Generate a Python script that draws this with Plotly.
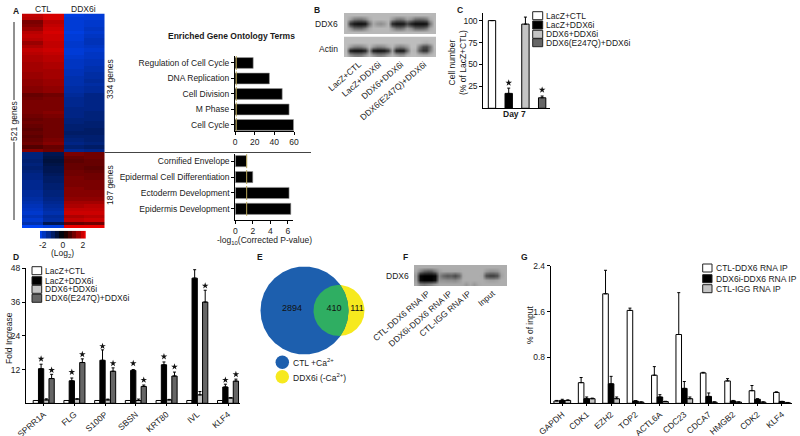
import numpy as np
import plotly.graph_objects as go

W, H = 800, 436
FONT = "Liberation Sans"
INK = "#1a1a1a"
LABEL_ANGLE = -41

WHITE, BLACK, LGREY, DGREY = "#ffffff", "#000000", "#c4c4c4", "#666666"

# Panel A heat map, rows top to bottom: CTL, CTL, DDX6i, DDX6i (log2)
heat_rows = [
    [1.9, 2.1, -2.2, -2.1], [1.8, 2.1, -2.1, -2.1], [1.2, 1.8, -2.1, -2.0], [1.3, 1.9, -2.1, -2.0],
    [1.5, 2.0, -2.1, -1.9], [1.8, 2.1, -2.2, -2.0], [1.9, 2.0, -2.1, -1.9], [1.8, 2.0, -2.1, -1.8],
    [1.5, 1.9, -2.0, -1.8], [1.7, 1.9, -2.0, -1.9], [1.9, 2.0, -2.1, -2.0], [1.8, 1.9, -2.1, -1.9],
    [1.7, 1.8, -2.0, -1.9], [1.7, 1.8, -1.9, -1.8], [1.6, 1.7, -1.9, -1.8], [1.6, 1.7, -1.9, -1.7],
    [1.6, 1.6, -1.8, -1.7], [1.5, 1.6, -1.8, -1.6], [1.5, 1.6, -1.7, -1.6], [1.4, 1.5, -1.7, -1.5],
    [1.4, 1.5, -1.7, -1.6], [1.3, 1.4, -1.6, -1.5], [1.3, 1.4, -1.6, -1.5], [1.0, 1.1, -1.5, -1.3],
    [1.1, 1.2, -1.4, -1.3], [1.2, 1.2, -1.4, -1.3], [1.2, 1.2, -1.4, -1.3], [1.2, 1.2, -1.3, -1.3],
    [1.2, 1.3, -1.3, -1.2], [1.1, 1.2, -1.3, -1.2], [1.0, 1.1, -1.2, -1.2], [1.1, 1.1, -1.2, -1.1],
    [1.0, 1.1, -1.1, -1.1], [0.9, 1.1, -1.1, -1.0], [1.0, 1.1, -1.0, -1.0], [0.9, 1.1, -1.1, -1.1],
    [1.0, 1.2, -1.2, -1.1], [1.1, 1.3, -1.3, -1.2], [0.8, 1.0, -1.1, -1.0], [1.3, 1.1, -1.4, -1.3],
    [-1.2, -0.8, 1.2, 1.1], [-1.2, -0.7, 1.0, 1.1], [-1.1, -0.6, 0.9, 1.0], [-1.2, -0.7, 1.0, 1.0],
    [-1.1, -0.8, 1.0, 0.9], [-1.2, -0.8, 1.1, 1.0], [-1.3, -0.9, 1.1, 1.1], [-1.3, -1.0, 1.2, 1.1],
    [-1.4, -1.0, 1.2, 1.2], [-1.4, -1.1, 1.2, 1.2], [-1.4, -1.1, 1.3, 1.2], [-1.5, -1.2, 1.3, 1.3],
    [-1.5, -1.2, 1.3, 1.3], [-1.6, -1.3, 1.4, 1.4], [-1.7, -1.4, 1.6, 1.6], [-1.8, -1.5, 1.7, 1.8],
    [-1.9, -1.6, 1.9, 1.9], [-2.0, -1.7, 2.0, 2.0], [-1.8, -1.5, 1.7, 1.8], [-2.0, -1.6, 1.9, 2.0],
    [-1.7, -0.8, 1.0, 1.1], [-2.4, -2.2, 2.3, 2.3],
]
heat_cols = ["CTL a", "CTL b", "DDX6i a", "DDX6i b"]
scale_steps = [-2.28, -1.86, -1.43, -1.0, -0.57, -0.14, 0.29, 0.71, 1.14, 1.57, 2.0, 2.28]
scale_ticks = [-2, 0, 2]
scale_text = ["-2", "0", "2"]
heat_colors = [[0, "#0046ff"], [0.5, "#000000"], [1, "#ff0000"]]

# Panel A enriched terms
go_top_terms = ["Cell Cycle", "M Phase", "Cell Division", "DNA Replication", "Regulation of Cell Cycle"]
go_top_values = [59.5, 55, 48, 35, 18.5]
go_low_terms = ["Epidermis Development", "Ectoderm Development", "Epidermal Cell Differentiation", "Cornified Envelope"]
go_low_values = [6.35, 6.15, 2.0, 1.3]
p_cutoff = 1.3

# Panel B blots, light value per row and column
blot_ddx6 = [
    [.72, .72, .72, .72, .72, .72, .72, .72, .72, .72, .72, .72, .72, .72, .72, .72, .72, .72, .72, .72, .72, .72, .72, .72],
    [.72, .62, .48, .45, .45, .52, .66, .72, .72, .72, .72, .72, .60, .48, .45, .50, .62, .56, .42, .40, .42, .48, .66, .72],
    [.72, .20, .08, .05, .05, .08, .42, .66, .58, .55, .60, .70, .16, .08, .08, .10, .26, .12, .05, .05, .05, .08, .46, .72],
    [.72, .58, .42, .40, .40, .50, .66, .72, .72, .72, .72, .72, .58, .44, .42, .48, .62, .54, .38, .36, .38, .46, .66, .72],
    [.72, .72, .72, .72, .72, .72, .72, .72, .72, .72, .72, .72, .72, .72, .72, .72, .72, .72, .72, .72, .72, .72, .72, .72],
]
blot_actin = [
    [.74, .74, .74, .74, .74, .74, .74, .74, .74, .74, .74, .74, .74, .74, .74, .74, .74, .74, .74, .74, .74, .74, .74, .74],
    [.74, .74, .74, .74, .74, .74, .74, .74, .74, .74, .74, .74, .74, .74, .74, .74, .74, .74, .74, .74, .70, .68, .72, .74],
    [.74, .62, .52, .50, .52, .60, .72, .60, .52, .52, .56, .66, .72, .56, .50, .54, .62, .74, .74, .50, .30, .28, .46, .74],
    [.72, .10, .05, .05, .06, .14, .58, .10, .06, .06, .08, .20, .62, .12, .08, .10, .40, .72, .70, .36, .20, .20, .50, .72],
    [.74, .60, .52, .50, .52, .62, .72, .62, .54, .52, .56, .66, .72, .66, .60, .62, .72, .74, .74, .72, .70, .70, .72, .74],
]
blot_lanes = [3.4, 8.6, 14.4, 20.4]
blot_labels = ["LacZ+CTL", "LacZ+DDX6i", "DDX6+DDX6i", "DDX6(E247Q)+DDX6i"]

# Panel C
c_values = [100, 17, 96, 12]
c_errors = [0, 6, 8, 2]
c_colors = [WHITE, BLACK, LGREY, DGREY]
c_star_x = [1, 3]
c_star_y = [29, 21]
c_ticks = [25, 50, 75, 100]

# Panel D
d_genes = ["SPRR1A", "FLG", "S100P", "SBSN", "KRT80", "IVL", "KLF4"]
d_lacz_ctl = [1, 1, 1, 1, 1, 1, 1]
d_lacz_ddx = [12.3, 8.0, 15.3, 11.7, 13.7, 44.5, 5.8]
d_ddx_ddx = [1.2, 1.5, 1.2, 1.0, 1.2, 3.0, 1.9]
d_mut_ddx = [8.8, 14.5, 11.4, 6.0, 9.7, 36.0, 7.9]
d_err_ddx = [1.6, 1.0, 3.7, 0.3, 1.0, 3.0, 1.0]
d_err_rescue = [0.4, 0.1, 0.3, 0.5, 0.2, 1.2, 0.1]
d_err_mut = [1.5, 1.3, 1.2, 0.5, 1.4, 4.2, 0.7]
d_star_ddx = [15.8, 11.1, 20.3, 14.2, 16.6, 49.5, 8.3]
d_star_mut = [11.8, 17.4, 14.2, 8.3, 13.0, 41.8, 10.3]
d_ticks = [12, 24, 36, 48]

# Panel E
venn_labels = ["2894", "410", "111"]

# Panel F blot
blot_rip = [
    [.68, .68, .68, .68, .68, .68, .68, .68, .68, .68, .68, .68, .68, .68, .68, .68, .68, .68, .68, .68, .68, .68, .68, .68],
    [.66, .50, .38, .34, .36, .48, .62, .66, .66, .66, .66, .66, .68, .68, .68, .68, .68, .68, .60, .56, .56, .58, .66, .68],
    [.60, .03, .00, .00, .00, .03, .52, .40, .34, .36, .28, .40, .66, .68, .68, .68, .68, .66, .30, .24, .24, .30, .62, .68],
    [.62, .04, .00, .00, .00, .06, .58, .58, .56, .56, .54, .60, .68, .68, .68, .68, .68, .68, .64, .62, .62, .64, .68, .68],
    [.66, .50, .46, .50, .54, .60, .66, .66, .66, .66, .66, .66, .66, .60, .66, .60, .66, .68, .68, .68, .68, .68, .68, .68],
]
rip_lanes = [3.0, 8.7, 13.6, 19.8]
rip_labels = ["CTL-DDX6 RNA IP", "DDX6i-DDX6 RNA IP", "CTL-IGG RNA IP", "Input"]

# Panel G
g_genes = ["GAPDH", "CDK1", "EZH2", "TOP2", "ACTL6A", "CDC23", "CDCA7", "HMGB2", "CDK2", "KLF4"]
g_ctl_ddx = [0.04, 0.36, 1.91, 1.62, 0.49, 1.20, 0.53, 0.39, 0.22, 0.19]
g_kd_ddx = [0.05, 0.08, 0.34, 0.04, 0.11, 0.26, 0.12, 0.04, 0.07, 0.03]
g_ctl_igg = [0.05, 0.08, 0.08, 0.02, 0.03, 0.08, 0.02, 0.02, 0.02, 0.01]
g_err_ctl = [0.01, 0.09, 0.41, 0.04, 0.15, 0.73, 0.01, 0.04, 0.09, 0.01]
g_err_kd = [0.02, 0.03, 0.13, 0.005, 0.04, 0.12, 0.06, 0.01, 0.01, 0.005]
g_err_igg = [0.01, 0.01, 0.03, 0.005, 0.005, 0.03, 0.005, 0.005, 0.005, 0.005]
g_ticks = [0.8, 1.6, 2.4]

fig = go.Figure()
layout = {}
notes = []
shapes = []


def add_axes(n, left, right, top, bottom, xaxis=None, yaxis=None):
    """Place axis pair n on a box given in page pixels."""
    base = dict(showgrid=False, zeroline=False, ticks="", showticklabels=False, showline=False,
                tickfont=dict(family=FONT, size=8.5, color=INK), linecolor="black")
    xa = dict(base, domain=[left / W, right / W], anchor=f"y{n}")
    ya = dict(base, domain=[1 - bottom / H, 1 - top / H], anchor=f"x{n}")
    xa.update(xaxis or {})
    ya.update(yaxis or {})
    layout[f"xaxis{n}"] = xa
    layout[f"yaxis{n}"] = ya


def note(text, x, y, size=8.5, bold=False, anchor="center", angle=0, color=INK):
    notes.append(dict(text=f"<b>{text}</b>" if bold else text, x=x / W, y=1 - y / H, xref="paper", yref="paper",
                      showarrow=False, xanchor=anchor, yanchor="middle", textangle=angle,
                      font=dict(family=FONT, size=size, color=color)))


def swatches(left, right, rows, half, labels, colors, size=8.5):
    for y, label, color in zip(rows, labels, colors):
        shapes.append(dict(type="rect", xref="paper", yref="paper", x0=left / W, x1=right / W,
                           y0=1 - (y + half) / H, y1=1 - (y - half) / H, fillcolor=color,
                           line=dict(color="#222", width=1)))
        note(label, right + 1.5, y, size=size, anchor="left")


def bar_line(x, y, color, errors=None, xa="x", ya="y", width=None):
    err = None
    if errors is not None:
        err = dict(type="data", array=errors, arrayminus=[0] * len(errors), symmetric=False,
                   color="black", thickness=1, width=1.5)
    fig.add_trace(go.Bar(x=x, y=y, marker=dict(color=color, line=dict(color="black", width=1)),
                         error_y=err, width=width, xaxis=xa, yaxis=ya, showlegend=False))


def stars(x, y, xa, ya):
    fig.add_trace(go.Scatter(x=x, y=y, mode="markers", xaxis=xa, yaxis=ya, showlegend=False, cliponaxis=False,
                             marker=dict(symbol="star", size=5, color="#111", line=dict(width=0))))


def blot(z, n, left, right, top, bottom, lanes=None, labels=None):
    fig.add_trace(go.Heatmap(z=z, colorscale=[[0, "#000"], [1, "#fff"]], zmin=0, zmax=1, zsmooth="best",
                             showscale=False, xaxis=f"x{n}", yaxis=f"y{n}", hoverinfo="skip"))
    xaxis = dict(range=[-0.5, len(z[0]) - 0.5])
    if labels:
        xaxis.update(showticklabels=True, tickmode="array", tickvals=lanes, ticktext=labels, tickangle=LABEL_ANGLE)
    add_axes(n, left, right, top, bottom, xaxis=xaxis, yaxis=dict(range=[len(z) - 0.5, -0.5]))


# A: heat map and its scale
fig.add_trace(go.Heatmap(z=heat_rows, x=heat_cols, colorscale=heat_colors, zmin=-2.5, zmax=2.5, showscale=False,
                         xaxis="x1", yaxis="y1"))
add_axes(1, 22, 104.5, 13.5, 228, yaxis=dict(range=[len(heat_rows) - 0.5, -0.5]))
fig.add_trace(go.Heatmap(z=[scale_steps], x=[round(s, 2) for s in scale_steps], colorscale=heat_colors,
                         zmin=-2.5, zmax=2.5, showscale=False, xaxis="x2", yaxis="y2"))
add_axes(2, 40, 85.7, 230.7, 238.7,
         xaxis=dict(range=[-2.28, 2.29], showticklabels=True, tickmode="array", tickvals=scale_ticks, ticktext=scale_text),
         yaxis=dict(range=[-0.5, 0.5]))

# A: enriched terms
go_axis = dict(showline=True, ticks="outside", ticklen=3, tickcolor="black", showticklabels=True)
for n, terms, values, xr, dtick, box in [
    (3, go_top_terms, go_top_values, [0, 60], 20, (235, 294, 56, 131)),
    (4, go_low_terms, go_low_values, [0, 6.6], 2, (235.3, 293, 154, 220)),
]:
    fig.add_trace(go.Bar(x=values, y=terms, orientation="h", width=0.7, marker=dict(color="black", line=dict(color="#999", width=0.6)),
                         xaxis=f"x{n}", yaxis=f"y{n}", showlegend=False))
    fig.add_trace(go.Scatter(x=[p_cutoff] * len(terms), y=terms, mode="markers", xaxis=f"x{n}", yaxis=f"y{n}", showlegend=False,
                             marker=dict(symbol="line-ns", size=10, line=dict(color="#b9a75a", width=1))))
    low = -0.39 if n == 3 else -0.7
    high = 4.45 if n == 3 else 3.45
    add_axes(n, *box, xaxis=dict(go_axis, range=xr, dtick=dtick),
             yaxis=dict(go_axis, range=[low, high], type="category", categoryorder="array", categoryarray=terms))

# B
blot(blot_ddx6, 5, 344, 436, 13, 34)
blot(blot_actin, 6, 344, 436, 36.5, 57, blot_lanes, blot_labels)

# C
bar_line([0, 1, 2, 3], c_values, c_colors, c_errors, "x7", "y7", 0.44)
stars(c_star_x, c_star_y, "x7", "y7")
add_axes(7, 483.3, 550, 12.7, 108.3,
         xaxis=dict(showline=True, range=[-0.52, 3.47]),
         yaxis=dict(showline=True, range=[0, 109], ticks="outside", ticklen=3, tickcolor="black",
                    showticklabels=True, tickvals=c_ticks))

# D
w_d = (1 - 0.315) / 4
for vals, col, err in [(d_lacz_ctl, WHITE, None), (d_lacz_ddx, BLACK, d_err_ddx),
                       (d_ddx_ddx, LGREY, d_err_rescue), (d_mut_ddx, DGREY, d_err_mut)]:
    bar_line(list(range(len(d_genes))), vals, col, err, "x8", "y8")
stars([i - w_d / 2 for i in range(7)] + [i + 1.5 * w_d for i in range(7)], d_star_ddx + d_star_mut, "x8", "y8")
add_axes(8, 26, 240, 268.3, 403.3,
         xaxis=dict(showline=True, range=[-0.577, 6.39], showticklabels=True, tickmode="array",
                    tickvals=list(range(7)), ticktext=d_genes, tickangle=LABEL_ANGLE, ticks="outside", ticklen=2, tickcolor="black"),
         yaxis=dict(showline=True, range=[0, 48], showticklabels=True, tickvals=d_ticks,
                    ticks="outside", ticklen=3, tickcolor="black"))

# E: venn, axis units are page pixels
big = (304.5, 310.5, 44)
small = (339, 310.5, 25.5)
t = np.linspace(0, 2 * np.pi, 240)
t2 = np.linspace(-np.pi, np.pi, 240)
sx, sy = small[0] + small[2] * np.cos(t), small[1] + small[2] * np.sin(t)
bx, by = big[0] + big[2] * np.cos(t2), big[1] + big[2] * np.sin(t2)
in_big = (sx - big[0]) ** 2 + (sy - big[1]) ** 2 < big[2] ** 2
in_small = (bx - small[0]) ** 2 + (by - small[1]) ** 2 < small[2] ** 2
for xs, ys, col in [(sx, sy, "#f6e91e"), (bx, by, "#1d5fae"),
                    (np.r_[sx[in_big], bx[in_small]], np.r_[sy[in_big], by[in_small]], "#2fae62")]:
    fig.add_trace(go.Scatter(x=xs, y=ys, mode="lines", fill="toself", fillcolor=col, line=dict(width=0),
                             xaxis="x9", yaxis="y9", showlegend=False, hoverinfo="skip"))
fig.add_trace(go.Scatter(x=[282.3, 282.3], y=[362.3, 376.7], mode="markers", xaxis="x9", yaxis="y9", showlegend=False,
                         marker=dict(size=13.5, color=["#1d5fae", "#f6e91e"], line=dict(width=0))))
fig.add_trace(go.Scatter(x=[292, 334, 357], y=[308.7, 308.7, 308.7], mode="text", text=venn_labels, xaxis="x9", yaxis="y9",
                         showlegend=False, textfont=dict(family=FONT, size=9, color="#111")))
add_axes(9, 250, 375, 260, 385, xaxis=dict(range=[250, 375]), yaxis=dict(range=[385, 260]))

# F
blot(blot_rip, 10, 414, 507, 265, 286, rip_lanes, rip_labels)

# G
for vals, col, err in [(g_ctl_ddx, WHITE, g_err_ctl), (g_kd_ddx, BLACK, g_err_kd), (g_ctl_igg, LGREY, g_err_igg)]:
    bar_line(list(range(len(g_genes))), vals, col, err, "x11", "y11")
add_axes(11, 550.7, 791.7, 265.7, 403.3,
         xaxis=dict(showline=True, range=[-0.475, 9.4], showticklabels=True, tickmode="array",
                    tickvals=list(range(10)), ticktext=g_genes, tickangle=LABEL_ANGLE, ticks="outside", ticklen=2, tickcolor="black"),
         yaxis=dict(showline=True, range=[0, 2.4], showticklabels=True, tickvals=g_ticks, ticktext=["0.8", "1.6", "2.4"],
                    ticks="outside", ticklen=3, tickcolor="black"))

# panel letters and free text
for letter, x, y in [("A", 16, 11), ("B", 317, 10), ("C", 460, 10), ("D", 16, 257), ("E", 260, 257), ("F", 405, 257), ("G", 524.5, 257)]:
    note(letter, x, y, size=8.5, bold=True)
note("CTL", 43, 9)
note("DDX6i", 83, 9)
note("334 genes", 110, 79, angle=-90)
note("187 genes", 110, 185, angle=-90)
note("521 genes", 14, 121, angle=-90)
note("(Log<sub>2</sub>)", 62, 253)
note("Enriched Gene Ontology Terms", 232, 36, size=8.5, bold=True)
note("-log<sub>10</sub>(Corrected P-value)", 264, 240)
note("DDX6", 340, 24, anchor="right")
note("Actin", 340, 49, anchor="right")
note("DDX6", 411, 276, anchor="right")
note("Cell number<br>(% of LacZ+CTL)", 458, 63, angle=-90)
note("Day 7", 514, 114, bold=True)
note("Fold Increase", 9, 338, angle=-90)
note("% of input", 530, 325, angle=-90)
note("CTL +Ca<sup>2+</sup>", 291, 362, anchor="left")
note("DDX6i (-Ca<sup>2+</sup>)", 291, 377, anchor="left")

# A: rules beside the heat map
for x0, y0, x1, y1, col in [(104.5, 152.5, 311, 152.5, "#444"), (14, 22, 14, 100, "#222"), (14, 142, 14, 220, "#222")]:
    shapes.append(dict(type="line", xref="paper", yref="paper", x0=x0 / W, x1=x1 / W,
                       y0=1 - y0 / H, y1=1 - y1 / H, line=dict(color=col, width=1)))

swatches(532.7, 542.7, [15.7, 25, 34.3, 42.7], 4, blot_labels, c_colors)
swatches(32, 41.7, [270.7, 280.7, 289.3, 298.3], 4, blot_labels, c_colors)
swatches(702.7, 712, [268, 278.7, 288.7], 4, rip_labels[:3], [WHITE, BLACK, LGREY])

fig.update_layout(
    width=W, height=H, margin=dict(l=0, r=0, t=0, b=0, autoexpand=False), autosize=False,
    paper_bgcolor="white", plot_bgcolor="rgba(0,0,0,0)",
    barmode="group", bargap=0.315, bargroupgap=0,
    annotations=notes, shapes=shapes, showlegend=False, **layout,
)
fig.write_html("out.html", config=dict(displayModeBar=False),
               post_script="document.body.style.margin='0';")
